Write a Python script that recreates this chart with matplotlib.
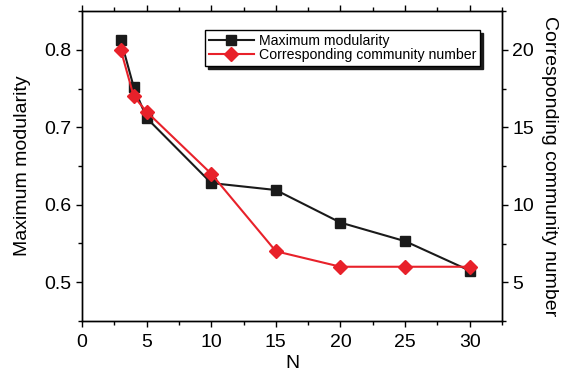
import matplotlib
matplotlib.use('Agg')
import matplotlib.pyplot as plt

plt.rcParams['font.family'] = ['Liberation Sans', 'DejaVu Sans']

# Network size and results
n_values = [3, 4, 5, 10, 15, 20, 25, 30]
max_modularity = [0.813, 0.752, 0.712, 0.628, 0.619, 0.577, 0.553, 0.515]
community_number = [20, 17, 16, 12, 7, 6, 6, 6]

fig = plt.figure(figsize=(5.7, 3.73), dpi=100)
ax = fig.add_axes([82 / 570, 1 - 321 / 373, 420 / 570, 310 / 373])
ax2 = ax.twinx()

l1, = ax.plot(n_values, max_modularity, color='#1a1a1a', marker='s', markersize=7,
              linewidth=1.5, label='Maximum modularity', zorder=3)
l2, = ax2.plot(n_values, community_number, color='#e8212a', marker='D', markersize=7.5,
               linewidth=1.5, label='Corresponding community number', zorder=3)

ax.set_xlim(0, 32.5)
ax.set_ylim(0.45, 0.85)
ax2.set_ylim(2.5, 22.5)
ax.set_xticks([0, 5, 10, 15, 20, 25, 30])
ax.set_xticks([2.5, 7.5, 12.5, 17.5, 22.5, 27.5, 32.5], minor=True)
ax.set_yticks([0.5, 0.6, 0.7, 0.8])
ax.set_yticks([0.45, 0.55, 0.65, 0.75, 0.85], minor=True)
ax2.set_yticks([5, 10, 15, 20])
ax2.set_yticks([2.5, 7.5, 12.5, 17.5, 22.5], minor=True)

ax.tick_params(axis='y', which='major', direction='out', length=4.5, width=1,
               labelsize=14, pad=3)
ax.tick_params(axis='x', which='major', direction='out', length=4.5, width=1,
               labelsize=14, top=True, pad=5)
ax.tick_params(axis='both', which='minor', direction='out', length=3, width=1, top=True)
ax2.tick_params(axis='y', which='major', direction='out', length=4.5, width=1,
                labelsize=14, pad=3)
ax2.tick_params(axis='y', which='minor', direction='out', length=3, width=1)

for a in (ax, ax2):
    for s in a.spines.values():
        s.set_linewidth(1)

ax.set_xlabel('N', fontsize=14, labelpad=3)
ax.set_ylabel('Maximum modularity', fontsize=14, labelpad=10)
ax2.set_ylabel('Corresponding community number', fontsize=14, rotation=270, labelpad=17)

leg = ax.legend([l1, l2], ['Maximum modularity', 'Corresponding community number'],
                loc='upper left', bbox_to_anchor=(123 / 420, 1 - 19 / 310),
                fontsize=10.2, frameon=True, fancybox=False,
                shadow={'color': '#1a1a1a', 'alpha': 1},
                borderpad=0.25, labelspacing=0.05, handlelength=3.2, handletextpad=0.35,
                borderaxespad=0)
leg.get_frame().set_edgecolor('black')
leg.get_frame().set_linewidth(1)

plt.savefig('out.png', dpi=100)
